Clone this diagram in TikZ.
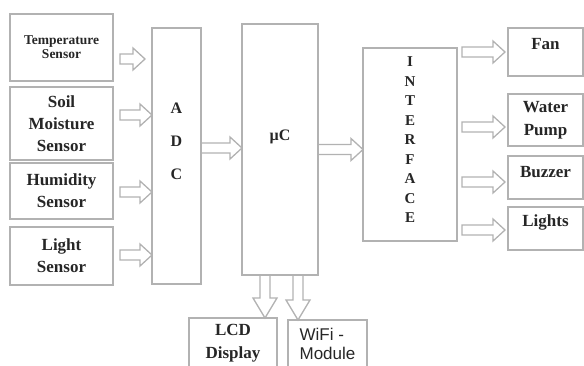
\documentclass[tikz,border=0pt]{standalone}
\usepackage{fontspec}
\setmainfont{Liberation Serif}
\newfontfamily\wifisf{Liberation Sans}
\usetikzlibrary{positioning,calc}

\begin{document}
\begin{tikzpicture}[
  x=1pt, y=1pt,
  box/.style={rectangle, draw=gray!60, line width=1.6pt, inner sep=0pt,
              outer sep=0pt, align=center, text=black!85,
              font=\bfseries\fontsize{17}{22}\selectfont},
  sensor/.style={box, minimum width=103pt},
  output/.style={box, minimum width=75pt},
  lbl/.style={align=center, text=black!85, inner sep=0pt,
              font=\bfseries\fontsize{17}{23}\selectfont},
  rarr/.style={draw=gray!60, line width=1.3pt, line join=miter,
    to path={let \p1=(\tikztostart), \p2=(\tikztotarget) in
      (\x1,\y1+5pt) -- (\x2-12pt,\y1+5pt) -- (\x2-12pt,\y1+11pt) -- (\x2,\y1)
      -- (\x2-12pt,\y1-11pt) -- (\x2-12pt,\y1-5pt) -- (\x1,\y1-5pt) -- cycle}},
  darr/.style={draw=gray!60, line width=1.3pt, line join=miter,
    to path={let \p1=(\tikztostart), \p2=(\tikztotarget) in
      (\x1-5pt,\y1) -- (\x1-5pt,\y2+20pt) -- (\x1-12pt,\y2+20pt) -- (\x1,\y2)
      -- (\x1+12pt,\y2+20pt) -- (\x1+5pt,\y2+20pt) -- (\x1+5pt,\y1) -- cycle}}
]
\useasboundingbox (0,0) rectangle (584,-365);
\clip (0,0) rectangle (584,-365);

% sensors
\node[sensor, minimum height=67pt, anchor=north west,
      font=\bfseries\fontsize{13.5}{14}\selectfont] (temp) at (10,-14) {Temperature\\Sensor};
\node[sensor, minimum height=73pt, below=6pt of temp]  (soil)  {Soil\\Moisture\\Sensor};
\node[sensor, minimum height=56pt, below=3pt of soil]  (humid) {Humidity\\Sensor};
\node[sensor, minimum height=58pt, below=8pt of humid] (light) {Light\\Sensor};

% converter, controller, interface
\node[box, minimum width=49pt, minimum height=256pt, anchor=north west,
      label={[lbl, font=\bfseries\fontsize{16}{33}\selectfont, yshift=15pt]center:{A\\D\\C}}] (adc) at (152,-28) {};
\node[box, minimum width=76pt, minimum height=251pt, anchor=north west,
      label={[lbl, font=\bfseries\fontsize{16}{18}\selectfont, yshift=12.5pt]center:µC}] (uc) at (242,-24) {};
\node[box, minimum width=94pt, minimum height=193pt, anchor=north west,
      label={[lbl, font=\bfseries\fontsize{15}{19.5}\selectfont, yshift=4.5pt]center:{I\\N\\T\\E\\R\\F\\A\\C\\E}}] (intf) at (363,-48) {};

% outputs
\node[output, minimum height=48pt, anchor=north west,
      label={[lbl, yshift=8pt]center:Fan}] (fan) at (508,-28) {};
\node[output, minimum height=52pt, below=18pt of fan, font=\bfseries\fontsize{17}{23}\selectfont] (pump) {Water\\Pump};
\node[output, minimum height=43pt, below=10pt of pump,
      label={[lbl, yshift=5.5pt]center:Buzzer}] (buzz) {};
\node[output, minimum height=43pt, below=8pt of buzz,
      label={[lbl, yshift=6.5pt]center:Lights}] (lights) {};

% display and wifi
\node[box, minimum width=88pt, minimum height=70pt, anchor=north west,
      label={[lbl, yshift=9.5pt]center:{LCD\\Display}}] (lcd) at (189,-318) {};
\node[box, minimum width=79pt, minimum height=70pt, anchor=north west,
      label={[lbl, align=left, font=\wifisf\fontsize{17}{19}\selectfont, yshift=11pt]center:{WiFi -\\Module}}] (wifi) at (288,-320) {};

% block arrows
\draw[rarr] ([shift={(7pt,-11.5pt)}]temp.east) to ([xshift=-7pt]adc.west);
\draw[rarr] ([shift={(7pt,8.5pt)}]soil.east) to (adc.west);
\draw[rarr] ([shift={(7pt,-1pt)}]humid.east) to (adc.west);
\draw[rarr] ([shift={(7pt,1pt)}]light.east) to (adc.west);
\draw[rarr] ([yshift=8pt]adc.east) to (uc.west);
\draw[rarr] (uc.east) to (intf.west);
\draw[rarr] ([xshift=5pt]intf.east |- fan.west) to ([xshift=-3pt]fan.west);
\draw[rarr] ([shift={(5pt,-7pt)}]intf.east |- pump.west) to ([xshift=-3pt]pump.west);
\draw[rarr] ([shift={(5pt,-4.5pt)}]intf.east |- buzz.west) to ([xshift=-3pt]buzz.west);
\draw[rarr] ([shift={(5pt,-1.5pt)}]intf.east |- lights.west) to ([xshift=-3pt]lights.west);
\draw[darr] ([xshift=-15pt]uc.south) to (lcd.north);
\draw[darr] ([xshift=18pt]uc.south) to (wifi.north);
\end{tikzpicture}
\end{document}
